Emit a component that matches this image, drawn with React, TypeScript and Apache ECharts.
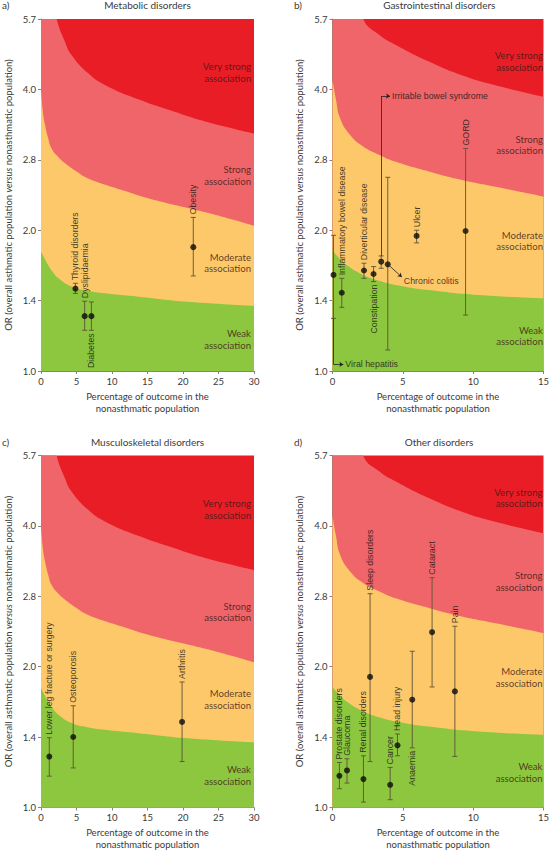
import React, { useEffect, useRef } from 'react';
import * as echarts from 'echarts';

// ---------- Band boundaries (x = % of outcome, y = OR) ----------
// Panels with a 0–30 x-axis (a, c)
const WIDE_STRONG_TOP = [[0, 9.0], [1.0, 7.0], [2.2, 5.66], [3.37, 5.06], [4.3, 4.74], [6.65, 4.33], [9.0, 4.09], [13.7, 3.81], [18.4, 3.6], [23.0, 3.42], [30, 3.22]];
const WIDE_MOD_TOP = [[0, 4.0], [0.25, 3.6], [0.56, 3.36], [1.0, 3.15], [1.5, 2.99], [2.4, 2.87], [3.4, 2.78], [5.0, 2.67], [6.65, 2.58], [11.3, 2.44], [16.0, 2.32], [20.7, 2.23], [25.4, 2.14], [30, 2.045]];
const WIDE_WEAK_TOP = [[0, 1.8], [0.5, 1.74], [1.0, 1.685], [1.5, 1.64], [2.43, 1.58], [4.3, 1.515], [6.5, 1.485], [9.0, 1.466], [13.7, 1.442], [20.7, 1.406], [30, 1.378]];
// Panels with a 0–15 x-axis (b, d)
const NARROW_STRONG_TOP = [[0, 12], [1.0, 7.6], [2.18, 5.66], [3.34, 5.23], [4.5, 4.98], [6.85, 4.59], [9.2, 4.29], [11.5, 4.09], [15, 3.86]];
const NARROW_MOD_TOP = [[0, 4.2], [0.25, 3.8], [0.54, 3.47], [1.24, 3.2], [2.18, 3.02], [3.3, 2.9], [4.5, 2.8], [6.85, 2.67], [9.2, 2.56], [11.5, 2.48], [15, 2.36]];
const NARROW_WEAK_TOP = [[0, 1.81], [0.5, 1.74], [1.0, 1.685], [2.18, 1.605], [3.3, 1.56], [4.5, 1.528], [6.85, 1.49], [10.35, 1.454], [15, 1.43]];

// ---------- a) Metabolic disorders ----------
const A_NAMES = ['Thyroid disorders', 'Dyslipidaemia', 'Diabetes', 'Obesity'];
const A_X = [4.85, 6.15, 7.1, 21.45];
const A_OR = [1.5, 1.31, 1.31, 1.84];
const A_LO = [1.465, 1.222, 1.222, 1.597];
const A_HI = [1.54, 1.41, 1.405, 2.13];
const A_SIDE = ['top', 'top', 'bottom', 'top'];

// ---------- b) Gastrointestinal disorders ----------
const B_NAMES = ['Viral hepatitis', 'Inflammatory bowel disease', 'Diverticular disease', 'Constipation', 'Irritable bowel syndrome', 'Chronic colitis', 'Ulcer', 'GORD'];
const B_X = [0.07, 0.66, 2.24, 2.92, 3.46, 3.93, 5.98, 9.46];
const B_OR = [1.605, 1.47, 1.64, 1.612, 1.713, 1.691, 1.944, 1.992];
const B_LO = [1.296, 1.368, 1.578, 1.553, 1.658, 1.109, 1.879, 1.317];
const B_HI = [1.95, 1.578, 1.7, 1.672, 1.762, 2.595, 2.0, 2.99];
const B_SIDE = ['leader', 'top', 'top', 'bottom', 'leader', 'leader', 'top', 'top'];
// leader lines (data coordinates) and the anchor of their text
const B_LEADER_NAMES = ['Viral hepatitis', 'Irritable bowel syndrome', 'Chronic colitis'];
const B_LEADER_PATHS = [
  [[0.07, 1.296], [0.07, 1.033], [0.77, 1.033]],
  [[3.46, 1.762], [3.46, 3.87], [4.09, 3.87]],
  [[3.93, 1.691], [4.93, 1.588]],
];
const B_LEADER_TEXT_AT = [[0.77, 1.033], [4.09, 3.87], [4.93, 1.56]];

// ---------- c) Musculoskeletal disorders ----------
const C_NAMES = ['Lower leg fracture or surgery', 'Osteoporosis', 'Arthritis'];
const C_X = [1.17, 4.54, 19.87];
const C_OR = [1.285, 1.415, 1.524];
const C_LO = [1.167, 1.215, 1.254];
const C_HI = [1.41, 1.65, 1.855];
const C_SIDE = ['top', 'top', 'top'];

// ---------- d) Other disorders ----------
const D_NAMES = ['Prostate disorders', 'Glaucoma', 'Renal disorders', 'Sleep disorders', 'Cancer', 'Head injury', 'Anaemia', 'Cataract', 'Pain'];
const D_X = [0.49, 1.03, 2.2, 2.67, 4.1, 4.62, 5.67, 7.08, 8.7];
const D_OR = [1.169, 1.2, 1.15, 1.902, 1.118, 1.358, 1.7, 2.37, 1.771];
const D_LO = [1.097, 1.128, 1.027, 1.254, 1.039, 1.29, 1.341, 1.81, 1.286];
const D_HI = [1.248, 1.271, 1.29, 2.865, 1.218, 1.436, 2.158, 3.1, 2.441];
const D_SIDE = ['top', 'top', 'top', 'top', 'top', 'top', 'bottom', 'top', 'top'];

// ---------- axis / text ----------
const Y_TICK_COUNT = 5; // powers of sqrt(2): 1.0 … 5.7
const BAND_TEXTS = ['Very strong\nassociation', 'Strong\nassociation', 'Moderate\nassociation', 'Weak\nassociation'];
const X_NAME = 'Percentage of outcome in the\nnonasthmatic population';
const Y_NAME = 'OR (overall asthmatic population {i|versus} nonasthmatic population)';

// ---------- styles ----------
const FONT = 'Lato, "Open Sans", sans-serif';
const LABEL_FONT = '"Liberation Sans", Arial, sans-serif';
const LABEL_SIZE = 8.8;
const TEXT = '#3a3a3a';
const AXIS = '#8a8272';
const ERR = '#5e5236';
const RED = '#E91D26';
const SALMON = '#EF6569';
const YELLOW = '#FCC86A';
const GREEN = '#8DC63F';
const BAND_TEXT = 'rgba(60,25,20,0.82)';

type Panel = {
  letter: string; title: string; xMax: number;
  grid: { left: number; top: number; width: number; height: number };
  bands: number[][][]; bandLabelY: number[];
  names: string[]; x: number[]; or: number[]; lo: number[]; hi: number[]; side: string[];
  leaders?: { names: string[]; paths: number[][][]; textAt: number[][] };
};

const PANELS: Panel[] = [
  { letter: 'a)', title: 'Metabolic disorders', xMax: 30, grid: { left: 41, top: 19, width: 213, height: 352 },
    bands: [WIDE_STRONG_TOP, WIDE_MOD_TOP, WIDE_WEAK_TOP], bandLabelY: [53.7, 156.5, 244, 320.3],
    names: A_NAMES, x: A_X, or: A_OR, lo: A_LO, hi: A_HI, side: A_SIDE },
  { letter: 'b)', title: 'Gastrointestinal disorders', xMax: 15, grid: { left: 332.5, top: 19, width: 213.5, height: 352 },
    bands: [NARROW_STRONG_TOP, NARROW_MOD_TOP, NARROW_WEAK_TOP], bandLabelY: [42.5, 126, 222, 317],
    names: B_NAMES, x: B_X, or: B_OR, lo: B_LO, hi: B_HI, side: B_SIDE,
    leaders: { names: B_LEADER_NAMES, paths: B_LEADER_PATHS, textAt: B_LEADER_TEXT_AT } },
  { letter: 'c)', title: 'Musculoskeletal disorders', xMax: 30, grid: { left: 41, top: 455.5, width: 213, height: 352 },
    bands: [WIDE_STRONG_TOP, WIDE_MOD_TOP, WIDE_WEAK_TOP], bandLabelY: [53.7, 156.5, 244, 320.3],
    names: C_NAMES, x: C_X, or: C_OR, lo: C_LO, hi: C_HI, side: C_SIDE },
  { letter: 'd)', title: 'Other disorders', xMax: 15, grid: { left: 332.5, top: 455.5, width: 213, height: 352 },
    bands: [NARROW_STRONG_TOP, NARROW_MOD_TOP, NARROW_WEAK_TOP], bandLabelY: [42.5, 126, 222, 317],
    names: D_NAMES, x: D_X, or: D_OR, lo: D_LO, hi: D_HI, side: D_SIDE },
];

function buildOption() {
  const grid: any[] = [];
  const xAxis: any[] = [];
  const yAxis: any[] = [];
  const series: any[] = [];
  const graphic: any[] = [];
  const ymax = Math.pow(Math.SQRT2, Y_TICK_COUNT);

  PANELS.forEach((p, i) => {
    grid.push({ ...p.grid, show: true, backgroundColor: RED, borderWidth: 0 });
    xAxis.push({
      gridIndex: i, type: 'value', min: 0, max: p.xMax, interval: 5,
      axisLine: { show: true, onZero: false, lineStyle: { color: AXIS, width: 1 } },
      axisTick: { show: true, length: 3, lineStyle: { color: AXIS } },
      splitLine: { show: false },
      axisLabel: { fontSize: 9.5, color: TEXT, fontFamily: FONT, margin: 5 },
      name: X_NAME, nameLocation: 'middle', nameGap: 19,
      nameTextStyle: { fontSize: 9.5, lineHeight: 12.3, color: TEXT, fontFamily: FONT },
    });
    yAxis.push({
      gridIndex: i, type: 'log', logBase: Math.SQRT2, min: 1, max: ymax,
      axisLine: { show: true, onZero: false, lineStyle: { color: AXIS, width: 1 } },
      axisTick: { show: true, length: 3, lineStyle: { color: AXIS } },
      splitLine: { show: false },
      axisLabel: { fontSize: 9.5, color: TEXT, fontFamily: FONT, margin: 5, formatter: (v: number) => v.toFixed(1) },
      name: Y_NAME, nameLocation: 'middle', nameGap: 28,
      nameTextStyle: { fontSize: 9.5, color: TEXT, fontFamily: FONT,
        rich: { i: { fontStyle: 'italic', fontSize: 9.5, color: TEXT, fontFamily: FONT } } },
    });

    // coloured bands (painted from top band down)
    const bandColors = [SALMON, YELLOW, GREEN];
    p.bands.forEach((pts, k) => {
      series.push({
        type: 'line', xAxisIndex: i, yAxisIndex: i, data: pts, smooth: 0.5,
        symbol: 'none', showSymbol: false, silent: true, z: 1, clip: true,
        lineStyle: { width: 0, color: bandColors[k] },
        areaStyle: { color: bandColors[k], opacity: 1, origin: 1 },
      });
    });

    // error bars
    series.push({
      type: 'custom', xAxisIndex: i, yAxisIndex: i, z: 3, silent: true,
      data: p.x.map((v, k) => [v, p.lo[k], p.hi[k]]),
      encode: { x: 0, y: [1, 2] },
      renderItem: (_params: any, api: any) => {
        const a = api.coord([api.value(0), api.value(1)]);
        const b = api.coord([api.value(0), api.value(2)]);
        const w = 2.5;
        const st = { stroke: ERR, lineWidth: 0.9 };
        return {
          type: 'group', children: [
            { type: 'line', shape: { x1: a[0], y1: a[1], x2: b[0], y2: b[1] }, style: st },
            { type: 'line', shape: { x1: a[0] - w, y1: a[1], x2: a[0] + w, y2: a[1] }, style: st },
            { type: 'line', shape: { x1: b[0] - w, y1: b[1], x2: b[0] + w, y2: b[1] }, style: st },
          ],
        };
      },
    });

    // points
    series.push({
      type: 'scatter', xAxisIndex: i, yAxisIndex: i, z: 4, silent: true,
      symbol: 'circle', symbolSize: 6, itemStyle: { color: '#0b0b0b' },
      data: p.x.map((v, k) => [v, p.or[k]]),
    });

    // rotated labels above / below the bars
    const labelled = p.names.map((n, k) => ({ n, k })).filter(({ k }) => p.side[k] !== 'leader');
    series.push({
      type: 'scatter', xAxisIndex: i, yAxisIndex: i, z: 5, silent: true,
      symbolSize: 0.01, itemStyle: { color: 'rgba(0,0,0,0)' },
      label: { show: true, formatter: '{b}', rotate: 90, verticalAlign: 'middle', distance: 3,
        fontSize: LABEL_SIZE, fontFamily: LABEL_FONT, color: '#111' },
      data: labelled.map(({ n, k }) => ({
        name: n,
        value: [p.x[k], p.side[k] === 'top' ? p.hi[k] : p.lo[k]],
        label: { position: p.side[k], align: p.side[k] === 'top' ? 'left' : 'right' },
      })),
    });

    // leader lines with horizontal labels
    if (p.leaders) {
      const L = p.leaders;
      const mlData: any[] = [];
      L.paths.forEach((path) => {
        for (let s = 0; s < path.length - 1; s++) {
          const last = s === path.length - 2;
          mlData.push([
            { coord: path[s], symbol: 'none', symbolSize: 0 },
            { coord: path[s + 1], symbol: last ? 'arrow' : 'none', symbolSize: last ? 4 : 0 },
          ]);
        }
      });
      series.push({
        type: 'scatter', xAxisIndex: i, yAxisIndex: i, z: 5, silent: true,
        symbolSize: 0.01, itemStyle: { color: 'rgba(0,0,0,0)' },
        label: { show: true, formatter: '{b}', position: 'right', distance: 2,
          fontSize: LABEL_SIZE, fontFamily: LABEL_FONT, color: '#111' },
        data: L.names.map((n, k) => ({ name: n, value: L.textAt[k] })),
        markLine: {
          silent: true, animation: false, symbol: ['none', 'none'], symbolSize: 4,
          lineStyle: { color: '#222', width: 0.8, type: 'solid' },
          label: { show: false }, emphasis: { disabled: true },
          data: mlData,
        },
      });
    }

    // titles
    const g = p.grid;
    const titleY = i < 2 ? 5 : 442;
    graphic.push({ type: 'text', x: i % 2 === 0 ? 2 : 294, y: titleY, silent: true,
      style: { text: p.letter, fill: TEXT, fontSize: 10, fontFamily: FONT, align: 'left', verticalAlign: 'middle', textAlign: 'left', textVerticalAlign: 'middle' } });
    graphic.push({ type: 'text', x: g.left + g.width / 2, y: titleY, silent: true,
      style: { text: p.title, fill: TEXT, fontSize: 10, fontFamily: FONT, align: 'center', verticalAlign: 'middle', textAlign: 'center', textVerticalAlign: 'middle' } });
    // band labels
    BAND_TEXTS.forEach((t, k) => {
      graphic.push({ type: 'text', x: g.left + g.width - 3, y: g.top + p.bandLabelY[k], silent: true, z: 10,
        style: { text: t, fill: BAND_TEXT, fontSize: 9.6, lineHeight: 11.8, fontFamily: FONT,
          align: 'right', verticalAlign: 'middle', textAlign: 'right', textVerticalAlign: 'middle' } });
    });
  });

  return { animation: false, backgroundColor: '#ffffff', grid, xAxis, yAxis, series, graphic };
}

export default function App() {
  const ref = useRef<HTMLDivElement>(null);
  useEffect(() => {
    if (!ref.current) return;
    const chart = echarts.init(ref.current, undefined, { renderer: 'svg' });
    chart.setOption(buildOption() as any);
    return () => chart.dispose();
  }, []);
  return <div ref={ref} style={{ position: 'absolute', left: 0, top: 0, width: 552, height: 853, background: '#fff' }} />;
}
